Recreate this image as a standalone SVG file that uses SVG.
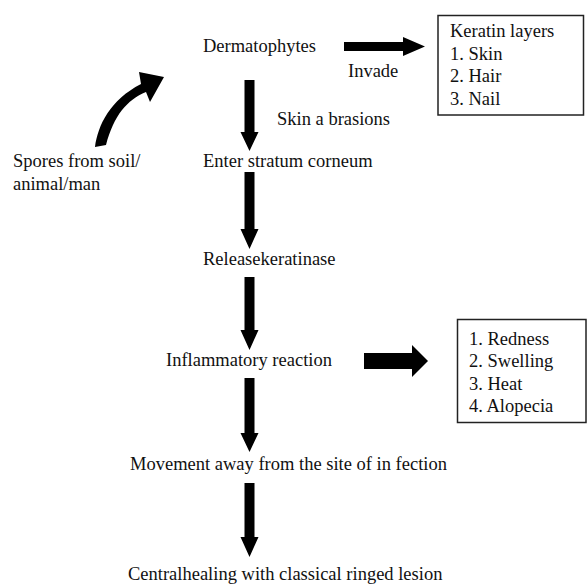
<svg xmlns="http://www.w3.org/2000/svg" width="587" height="588" viewBox="0 0 587 588">
<style>
.t{font-family:'Liberation Serif','DejaVu Serif',serif;font-size:18.5px;fill:#111}
.box{fill:#fff;stroke:#222;stroke-width:1.5}
.arr{fill:#000}
</style>
<rect width="587" height="588" fill="#fff"/>
<g id="connectors">
<path class="arr" d="M95,147 C98,125 110,100 141,84 L139,72 L164,77 L150,102 L146,92 C127,100 114,115 106,145 Z"/>
<polygon class="arr" points="344,42 403,42 403,37 425,46.5 403,56 403,51 344,51"/>
<polygon class="arr" points="364,353 412,353 412,345 428,361 412,377 412,369 364,369"/>
<polygon class="arr" points="244.5,80 254.5,80 254.5,132 258.5,132 249.5,151 240.5,132 244.5,132"/>
<polygon class="arr" points="244.5,172 254.5,172 254.5,229 258.5,229 249.5,249 240.5,229 244.5,229"/>
<polygon class="arr" points="244.5,277 254.5,277 254.5,330 258.5,330 249.5,350 240.5,330 244.5,330"/>
<polygon class="arr" points="244.5,378 254.5,378 254.5,433 258.5,433 249.5,452 240.5,433 244.5,433"/>
<polygon class="arr" points="244.5,483 254.5,483 254.5,537 258.5,537 249.5,557 240.5,537 244.5,537"/>
<text class="t" font-family="Liberation Serif, serif" x="348" y="77">Invade</text>
<text class="t" font-family="Liberation Serif, serif" x="277" y="125">Skin a brasions</text>
</g>
<g id="spores" class="t" font-family="Liberation Serif, serif"><text x="13" y="167">Spores from soil/</text><text x="13" y="190">animal/man</text></g>
<g id="dermatophytes" class="t" font-family="Liberation Serif, serif"><text x="203" y="52">Dermatophytes</text></g>
<g id="keratin">
<rect class="box" x="438" y="15.5" width="145.5" height="99.5"/>
<g class="t" font-family="Liberation Serif, serif">
<text x="450" y="37">Keratin layers</text>
<text x="450" y="59.5">1. Skin</text>
<text x="450" y="82">2. Hair</text>
<text x="450" y="104.5">3. Nail</text>
</g>
</g>
<g id="enter" class="t" font-family="Liberation Serif, serif"><text x="203" y="167">Enter stratum corneum</text></g>
<g id="release" class="t" font-family="Liberation Serif, serif"><text x="203" y="265">Releasekeratinase</text></g>
<g id="inflammatory" class="t" font-family="Liberation Serif, serif"><text x="166" y="366">Inflammatory reaction</text></g>
<g id="symptoms">
<rect class="box" x="457.5" y="319.5" width="128.5" height="103"/>
<g class="t" font-family="Liberation Serif, serif">
<text x="469" y="345">1. Redness</text>
<text x="469" y="367">2. Swelling</text>
<text x="469" y="389.5">3. Heat</text>
<text x="469" y="412">4. Alopecia</text>
</g>
</g>
<g id="movement" class="t" font-family="Liberation Serif, serif"><text x="130" y="470">Movement away from the site of in fection</text></g>
<g id="central" class="t" font-family="Liberation Serif, serif"><text x="128" y="580">Centralhealing with classical ringed lesion</text></g>
</svg>
